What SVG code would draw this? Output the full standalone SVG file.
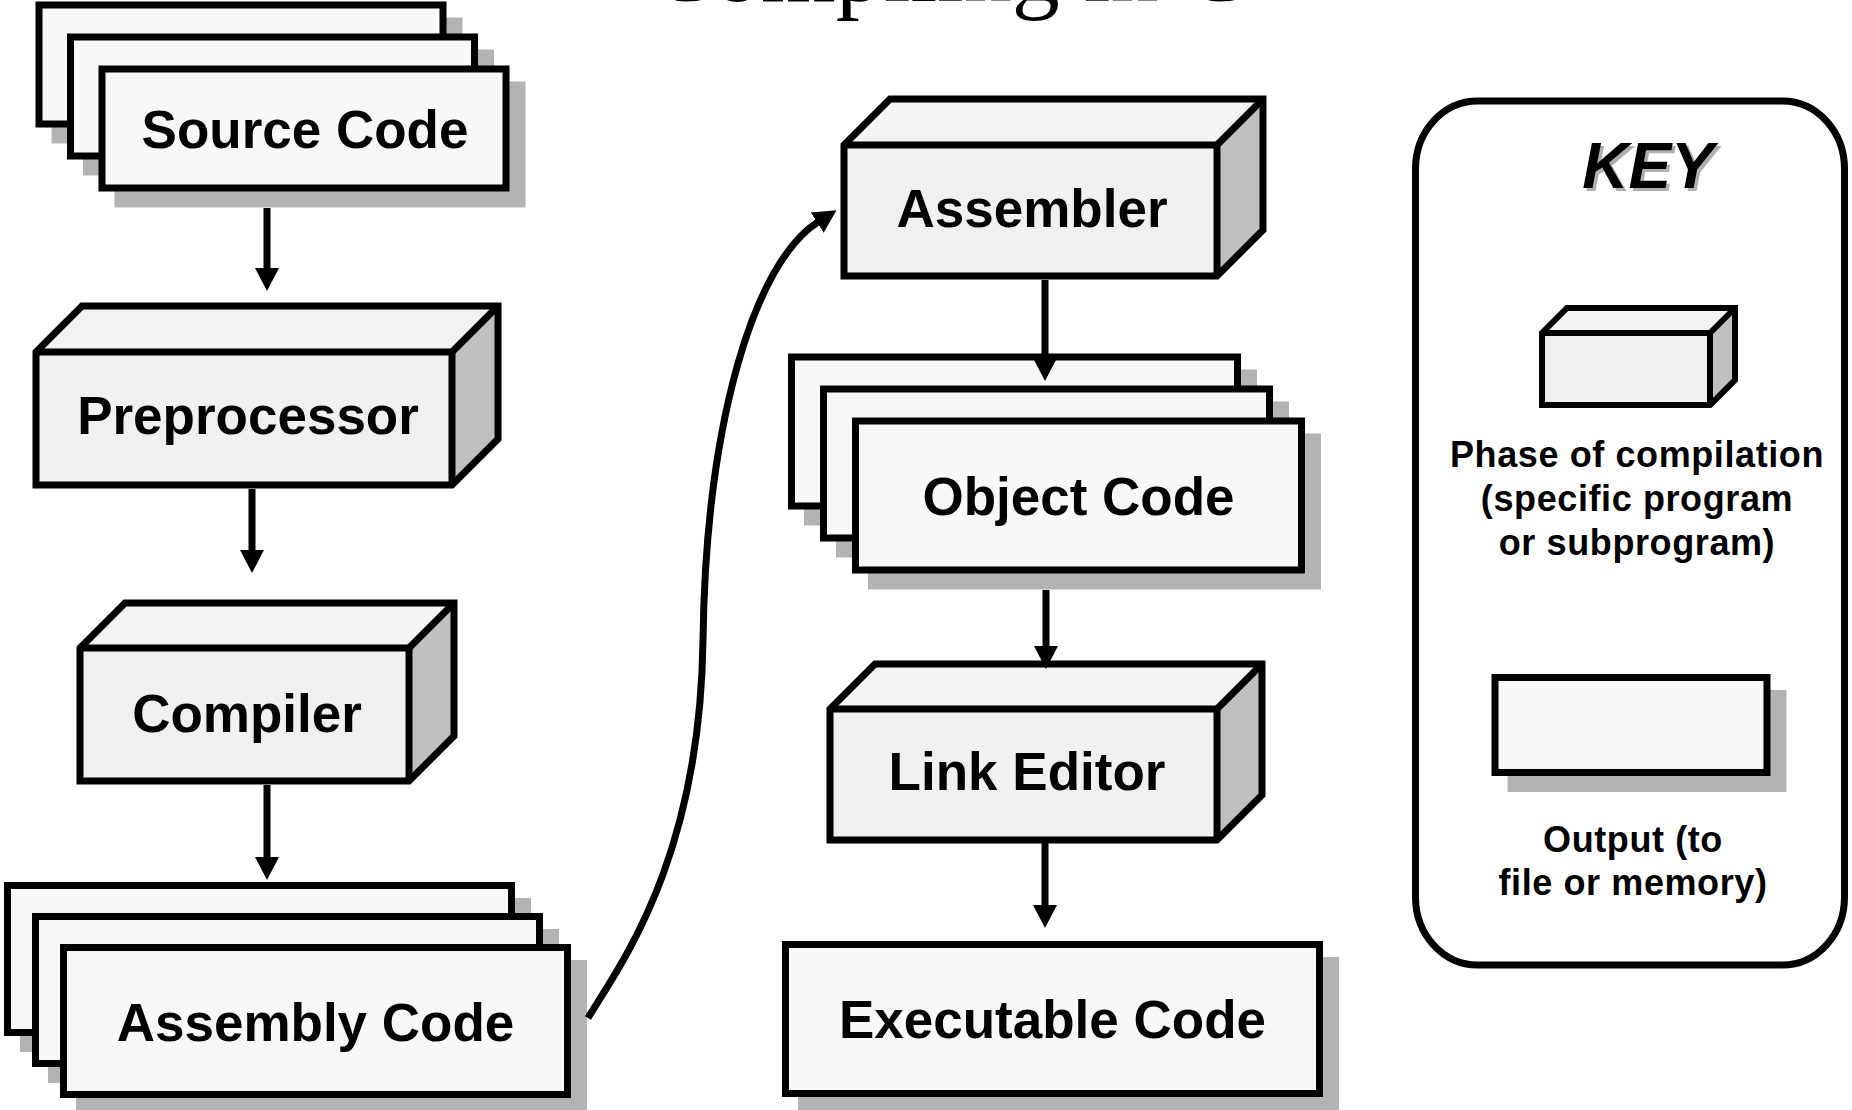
<svg xmlns="http://www.w3.org/2000/svg" width="1852" height="1110" viewBox="0 0 1852 1110">
<style>
.card{fill:#f8f8f8;stroke:#000;stroke-width:7}
.shadow{fill:#b3b3b3}
.front{fill:#f0f0f0}
.top{fill:#f3f3f3}
.side{fill:#c0c0c0}
.edge{fill:none;stroke:#000;stroke-width:7;stroke-linejoin:miter}
.kedge{fill:none;stroke:#000;stroke-width:6;stroke-linejoin:miter}
.label{font-family:"Liberation Sans",Arial,sans-serif;font-weight:bold;font-size:53px;text-anchor:middle;fill:#000}
.key{font-family:"Liberation Sans",Arial,sans-serif;font-weight:bold;font-size:36px;letter-spacing:0.6px;text-anchor:middle;fill:#000}
.conn{fill:none;stroke:#000;stroke-width:7}
</style>
<defs>
<marker id="ah" markerUnits="userSpaceOnUse" markerWidth="24" markerHeight="24" viewBox="0 0 24 24" refX="1" refY="12" orient="auto">
<path d="M0,0 L23,12 L0,24 Z" fill="#000"/>
</marker>
</defs>
<rect width="1852" height="1110" fill="#fff"/>

<text x="649" y="1" font-family="'Liberation Serif','Times New Roman',serif" font-size="96" fill="#000">Compiling in C</text>

<g id="source-code">
<rect class="shadow" x="51.5" y="17.5" width="411" height="126"/>
<rect class="card" x="39" y="5" width="404" height="119"/>
<rect class="shadow" x="83" y="49.5" width="411" height="126"/>
<rect class="card" x="70.5" y="37" width="404" height="119"/>
<rect class="shadow" x="114.5" y="81.5" width="411" height="126"/>
<rect class="card" x="102" y="69" width="404" height="119"/>
<text class="label" x="305" y="148">Source Code</text>
</g>

<g id="preprocessor">
<polygon class="top" points="36,352 82,306 498,306 452,352"/>
<polygon class="side" points="452,352 498,306 498,439 452,485"/>
<rect class="front" x="36" y="352" width="416" height="133"/>
<polygon class="edge" points="36,485 36,352 82,306 498,306 498,439 452,485"/>
<polyline class="edge" points="36,352 452,352 452,485"/>
<line class="edge" x1="452" y1="352" x2="498" y2="306"/>
<text class="label" x="248" y="434">Preprocessor</text>
</g>

<g id="compiler">
<polygon class="top" points="80,648 125,603 454,603 409,648"/>
<polygon class="side" points="409,648 454,603 454,736 409,781"/>
<rect class="front" x="80" y="648" width="329" height="133"/>
<polygon class="edge" points="80,781 80,648 125,603 454,603 454,736 409,781"/>
<polyline class="edge" points="80,648 409,648 409,781"/>
<line class="edge" x1="409" y1="648" x2="454" y2="603"/>
<text class="label" x="247" y="732">Compiler</text>
</g>

<g id="assembly-code">
<rect class="shadow" x="20" y="898" width="511" height="154"/>
<rect class="card" x="7.5" y="885.5" width="504" height="147"/>
<rect class="shadow" x="48" y="929" width="511" height="154"/>
<rect class="card" x="35.5" y="916.5" width="504" height="147"/>
<rect class="shadow" x="76" y="960" width="511" height="154"/>
<rect class="card" x="63.5" y="947.5" width="504" height="147"/>
<text class="label" x="315.5" y="1041">Assembly Code</text>
</g>

<g id="assembler">
<polygon class="top" points="844,145 890,99 1263,99 1217,145"/>
<polygon class="side" points="1217,145 1263,99 1263,230 1217,276"/>
<rect class="front" x="844" y="145" width="373" height="131"/>
<polygon class="edge" points="844,276 844,145 890,99 1263,99 1263,230 1217,276"/>
<polyline class="edge" points="844,145 1217,145 1217,276"/>
<line class="edge" x1="1217" y1="145" x2="1263" y2="99"/>
<text class="label" x="1032" y="227">Assembler</text>
</g>

<g id="object-code">
<rect class="shadow" x="804" y="369.5" width="453" height="156"/>
<rect class="card" x="791.5" y="357" width="446" height="149"/>
<rect class="shadow" x="836" y="401.5" width="453" height="156"/>
<rect class="card" x="823.5" y="389" width="446" height="149"/>
<rect class="shadow" x="868" y="433.5" width="453" height="156"/>
<rect class="card" x="855.5" y="421" width="446" height="149"/>
<text class="label" x="1078.5" y="515">Object Code</text>
</g>

<g id="link-editor">
<polygon class="top" points="830,709 875,664 1262,664 1217,709"/>
<polygon class="side" points="1217,709 1262,664 1262,795 1217,840"/>
<rect class="front" x="830" y="709" width="387" height="131"/>
<polygon class="edge" points="830,840 830,709 875,664 1262,664 1262,795 1217,840"/>
<polyline class="edge" points="830,709 1217,709 1217,840"/>
<line class="edge" x1="1217" y1="709" x2="1262" y2="664"/>
<text class="label" x="1027" y="790">Link Editor</text>
</g>

<g id="executable-code">
<rect class="shadow" x="798" y="957" width="541" height="156"/>
<rect class="card" x="785.5" y="944.5" width="534" height="149"/>
<text class="label" x="1052.5" y="1038">Executable Code</text>
</g>

<g id="key">
<rect x="1415.5" y="101" width="429" height="864" rx="62" ry="68" fill="#fff" stroke="#000" stroke-width="7"/>
<text x="1651" y="191" font-family="'Liberation Sans',Arial,sans-serif" font-weight="bold" font-style="italic" font-size="64" text-anchor="middle" fill="#b0b0b0">KEY</text>
<text x="1648" y="188" font-family="'Liberation Sans',Arial,sans-serif" font-weight="bold" font-style="italic" font-size="64" text-anchor="middle" fill="#000">KEY</text>
<g id="key-phase">
<polygon class="top" points="1542,333 1567,308 1735,308 1710,333"/>
<polygon class="side" points="1710,333 1735,308 1735,380 1710,405"/>
<rect class="front" x="1542" y="333" width="168" height="72"/>
<polygon class="kedge" points="1542,405 1542,333 1567,308 1735,308 1735,380 1710,405"/>
<polyline class="kedge" points="1542,333 1710,333 1710,405"/>
<line class="kedge" x1="1710" y1="333" x2="1735" y2="308"/>
</g>
<text class="key" x="1637" y="467">Phase of compilation</text>
<text class="key" x="1637" y="511">(specific program</text>
<text class="key" x="1637" y="555">or subprogram)</text>
<g id="key-output">
<rect class="shadow" x="1507.5" y="690" width="279" height="102"/>
<rect class="card" x="1495" y="677.5" width="272" height="95"/>
</g>
<text class="key" x="1633" y="852">Output (to</text>
<text class="key" x="1633" y="895">file or memory)</text>
</g>

<g id="connectors">
<path class="conn" d="M267 208 V269" marker-end="url(#ah)"/>
<path class="conn" d="M252 489 V551" marker-end="url(#ah)"/>
<path class="conn" d="M267 785 V858" marker-end="url(#ah)"/>
<path class="conn" d="M588 1018 C620 965 700 860 703 640 C706 420 755 262 818 222" marker-end="url(#ah)"/>
<path class="conn" d="M1045 280 V359" marker-end="url(#ah)"/>
<path class="conn" d="M1046 590 V647" marker-end="url(#ah)"/>
<path class="conn" d="M1045 843 V906" marker-end="url(#ah)"/>
</g>
</svg>
